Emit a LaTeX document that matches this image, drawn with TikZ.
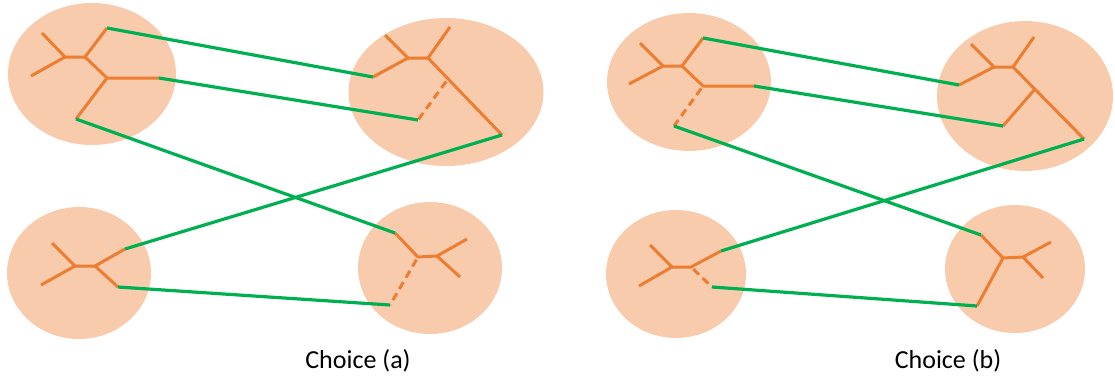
\documentclass[tikz,border=0pt]{standalone}
\usepackage{fontspec}
\setmainfont{Carlito}
\usetikzlibrary{shapes.geometric}
\definecolor{peach}{HTML}{F8CBAD}
\definecolor{tangerine}{HTML}{ED7D31}
\definecolor{leafgreen}{HTML}{00B050}
\tikzset{
  blob/.style={ellipse, fill=peach, draw=none, inner sep=0pt},
  branch/.style={draw=tangerine, line width=3pt, line join=round},
  dbranch/.style={branch, dash pattern=on 8pt off 5pt, dash phase=-3pt},
  link/.style={draw=leafgreen, line width=3.2pt},
  caption/.style={font=\fontsize{26}{30}\selectfont, text=black}
}
\begin{document}
\begin{tikzpicture}[x=1pt,y=-1pt]
\useasboundingbox (0,0) rectangle (1115,383);
% ---------- ellipses ----------
\node[blob, minimum width=168pt, minimum height=142pt] (A1) at (92,74) {};
\node[blob, minimum width=195pt, minimum height=148pt] (A2) at (446,92) {};
\node[blob, minimum width=144pt, minimum height=132pt] (A3) at (79,273) {};
\node[blob, minimum width=144pt, minimum height=132pt] (A4) at (430,268) {};
\node[blob, minimum width=164pt, minimum height=138pt] (B1) at (689,82) {};
\node[blob, minimum width=176pt, minimum height=150pt] (B2) at (1025,96) {};
\node[blob, minimum width=140pt, minimum height=128pt] (B3) at (676,274) {};
\node[blob, minimum width=140pt, minimum height=128pt] (B4) at (1015,269) {};
% ---------- choice (a) trees ----------
\coordinate (a1l1) at (42,33); \coordinate (a1l2) at (31,76);
\coordinate (a1n1) at (65,57); \coordinate (a1n2) at (85,57);
\coordinate (a1u) at (107,28); \coordinate (a1n3) at (107,78);
\coordinate (a1r) at (159,78); \coordinate (a1d) at (76,119);
\draw[branch] (a1l1) -- (a1n1) -- (a1l2);
\draw[branch] (a1n1) -- (a1n2) -- (a1u);
\draw[branch] (a1n2) -- (a1n3) -- (a1r);
\draw[branch] (a1n3) -- (a1d);

\coordinate (a2l1) at (385,35); \coordinate (a2l2) at (450,27);
\coordinate (a2n1) at (408,58); \coordinate (a2n2) at (428,58);
\coordinate (a2l) at (373,77); \coordinate (a2e) at (502,135);
\coordinate (a2m) at (448,79); \coordinate (a2d) at (418,120);
\draw[branch] (a2l1) -- (a2n1) -- (a2l);
\draw[branch] (a2n1) -- (a2n2) -- (a2l2);
\draw[branch] (a2n2) -- (a2e);
\draw[dbranch] (a2m) -- (a2d);

\coordinate (a3l1) at (52,243); \coordinate (a3l2) at (41,285);
\coordinate (a3n1) at (75,266); \coordinate (a3n2) at (95,266);
\coordinate (a3u) at (125,249); \coordinate (a3d) at (118,287);
\draw[branch] (a3l1) -- (a3n1) -- (a3l2);
\draw[branch] (a3n1) -- (a3n2) -- (a3u);
\draw[branch] (a3n2) -- (a3d);

\coordinate (a4u) at (395,233); \coordinate (a4n1) at (418,257);
\coordinate (a4n2) at (437,256); \coordinate (a4r1) at (467,239);
\coordinate (a4r2) at (460,277); \coordinate (a4d) at (390,305);
\draw[branch] (a4u) -- (a4n1) -- (a4n2) -- (a4r1);
\draw[branch] (a4n2) -- (a4r2);
\draw[dbranch] (a4n1) -- (a4d);

\draw[link] (a1u) -- (a2l);
\draw[link] (a1r) -- (a2d);
\draw[link] (a1d) -- (a4u);
\draw[link] (a2e) -- (a3u);
\draw[link] (a3d) -- (a4d);
% ---------- choice (b) trees ----------
\coordinate (b1l1) at (640,43); \coordinate (b1l2) at (629,84);
\coordinate (b1n1) at (663,66); \coordinate (b1n2) at (682,66);
\coordinate (b1u) at (703,38); \coordinate (b1n3) at (703,86);
\coordinate (b1r) at (754,86); \coordinate (b1d) at (674,126);
\draw[branch] (b1l1) -- (b1n1) -- (b1l2);
\draw[branch] (b1n1) -- (b1n2) -- (b1u);
\draw[branch] (b1n2) -- (b1n3) -- (b1r);
\draw[dbranch] (b1n3) -- (b1d);

\coordinate (b2l1) at (971,44); \coordinate (b2l2) at (1034,37);
\coordinate (b2n1) at (994,67); \coordinate (b2n2) at (1013,67);
\coordinate (b2l) at (959,85); \coordinate (b2n3) at (1035,89);
\coordinate (b2d) at (1003,126); \coordinate (b2e) at (1084,139);
\draw[branch] (b2l1) -- (b2n1) -- (b2l);
\draw[branch] (b2n1) -- (b2n2) -- (b2l2);
\draw[branch] (b2n2) -- (b2e);
\draw[branch] (b2n3) -- (b2d);

\coordinate (b3l1) at (650,245); \coordinate (b3l2) at (639,286);
\coordinate (b3n1) at (672,267); \coordinate (b3n2) at (691,267);
\coordinate (b3u) at (721,251); \coordinate (b3d) at (712,287);
\draw[branch] (b3l1) -- (b3n1) -- (b3l2);
\draw[branch] (b3n1) -- (b3n2) -- (b3u);
\draw[dbranch] (b3n2) -- (b3d);

\coordinate (b4u) at (981,235); \coordinate (b4n1) at (1003,258);
\coordinate (b4n2) at (1023,257); \coordinate (b4r1) at (1051,242);
\coordinate (b4r2) at (1043,278); \coordinate (b4d) at (977,306);
\draw[branch] (b4u) -- (b4n1) -- (b4n2) -- (b4r1);
\draw[branch] (b4n2) -- (b4r2);
\draw[branch] (b4n1) -- (b4d);

\draw[link] (b1u) -- (b2l);
\draw[link] (b1r) -- (b2d);
\draw[link] (b1d) -- (b4u);
\draw[link] (b2e) -- (b3u);
\draw[link] (b3d) -- (b4d);
% ---------- captions ----------
\node[caption] (capa) at (358,361) {Choice (a)};
\node[caption] (capb) at (948,361) {Choice (b)};
\end{tikzpicture}
\end{document}
